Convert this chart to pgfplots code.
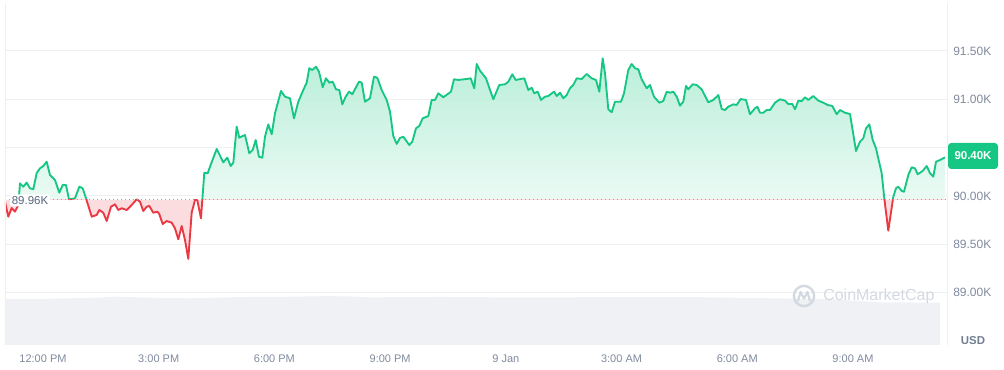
\documentclass[border=0pt]{standalone}
\usepackage{pgfplots}
\pgfplotsset{compat=1.18}
\usepackage{pgfplotstable}
\usepackage{fontspec}
\setmainfont{Liberation Sans}
\definecolor{cmcgreen}{HTML}{16C784}
\definecolor{cmcred}{HTML}{EA3943}
\definecolor{tickgray}{HTML}{808A9D}
\definecolor{darkgraytxt}{HTML}{58667E}
\definecolor{gridc}{HTML}{EDF0F3}
\definecolor{volc}{HTML}{EFF1F4}
\definecolor{dotc}{HTML}{9AA3B2}
\definecolor{wmark}{HTML}{D3D8E1}

\pgfplotstableread{
t p
-0.985 89.941
-0.900 89.786
-0.812 89.876
-0.726 89.838
-0.640 89.907
-0.596 90.131
-0.511 90.096
-0.423 90.138
-0.337 90.080
-0.251 90.069
-0.163 90.238
-0.078 90.286
0.008 90.310
0.096 90.355
0.181 90.217
0.311 90.165
0.423 90.034
0.511 90.114
0.596 90.114
0.674 89.966
0.830 89.976
0.941 90.096
1.029 90.080
1.115 89.976
1.263 89.786
1.392 89.804
1.460 89.855
1.563 89.827
1.652 89.741
1.763 89.889
1.867 89.914
1.952 89.855
2.040 89.873
2.170 89.855
2.300 89.907
2.429 89.966
2.515 89.941
2.600 89.845
2.689 89.889
2.756 89.897
2.860 89.827
2.963 89.838
3.015 89.814
3.103 89.710
3.207 89.741
3.337 89.724
3.422 89.666
3.508 89.552
3.596 89.690
3.682 89.545
3.767 89.349
3.855 89.827
3.941 89.959
4.000 89.959
4.096 89.769
4.182 90.241
4.270 90.235
4.356 90.331
4.504 90.486
4.675 90.348
4.778 90.396
4.866 90.310
4.934 90.344
5.022 90.717
5.089 90.603
5.237 90.631
5.349 90.442
5.437 90.476
5.515 90.579
5.600 90.406
5.686 90.396
5.756 90.613
5.841 90.741
5.930 90.638
6.015 90.855
6.171 91.086
6.274 91.027
6.404 91.010
6.508 90.803
6.619 90.975
6.749 91.096
6.837 91.172
6.904 91.321
6.982 91.303
7.078 91.337
7.156 91.285
7.252 91.124
7.337 91.217
7.423 91.172
7.511 91.182
7.597 91.103
7.682 91.096
7.760 90.948
7.848 91.027
7.934 91.079
8.019 91.052
8.193 91.182
8.263 91.172
8.348 90.975
8.478 91.010
8.582 91.234
8.667 91.223
8.781 91.096
8.911 90.993
8.997 90.872
9.082 90.620
9.170 90.538
9.256 90.600
9.342 90.613
9.497 90.527
9.575 90.562
9.671 90.700
9.756 90.724
9.844 90.803
9.990 90.827
10.078 90.993
10.163 90.993
10.249 91.062
10.379 91.021
10.578 91.079
10.656 91.207
10.767 91.200
10.985 91.210
11.089 91.217
11.182 91.114
11.245 91.365
11.330 91.296
11.486 91.217
11.675 91.000
11.830 91.148
11.978 91.155
12.064 91.182
12.168 91.259
12.256 91.200
12.479 91.217
12.582 91.096
12.670 91.120
12.738 91.062
12.826 91.079
12.912 90.993
13.015 91.027
13.101 91.034
13.249 91.079
13.319 91.034
13.404 91.068
13.490 91.010
13.578 91.044
13.664 91.114
13.749 91.148
13.837 91.217
13.967 91.210
14.096 91.262
14.226 91.217
14.338 91.200
14.423 91.079
14.511 91.424
14.571 91.269
14.657 90.897
14.745 90.866
14.830 90.975
14.986 90.975
15.064 91.062
15.175 91.303
15.263 91.365
15.349 91.321
15.434 91.310
15.522 91.207
15.652 91.114
15.738 91.148
15.841 91.027
15.979 90.965
16.082 90.982
16.171 91.079
16.256 91.068
16.342 91.079
16.430 91.027
16.515 90.934
16.601 90.975
16.671 91.138
16.731 91.103
16.845 91.155
16.948 91.148
17.078 91.103
17.249 90.969
17.379 90.993
17.509 91.044
17.597 90.900
17.682 90.889
17.768 90.923
17.897 90.948
17.985 90.941
18.089 91.003
18.227 90.993
18.330 90.845
18.460 90.907
18.520 90.923
18.590 90.861
18.675 90.861
18.763 90.889
18.849 90.889
18.979 90.965
19.108 91.000
19.238 90.986
19.323 90.951
19.427 90.951
19.497 90.897
19.583 90.986
19.671 90.982
19.756 91.021
19.842 90.993
19.971 91.034
20.101 90.986
20.231 90.965
20.345 90.941
20.464 90.931
20.578 90.845
20.664 90.889
20.793 90.861
20.923 90.848
21.079 90.465
21.182 90.562
21.268 90.597
21.338 90.700
21.424 90.741
21.512 90.579
21.597 90.493
21.745 90.235
21.812 89.976
21.916 89.641
22.046 89.993
22.116 90.080
22.175 90.096
22.263 90.052
22.323 90.044
22.435 90.217
22.522 90.297
22.608 90.286
22.678 90.224
22.808 90.259
22.912 90.310
22.997 90.235
23.083 90.200
23.153 90.355
23.257 90.372
23.386 90.400
}\price

\pgfplotstableread{
t v
-0.985 88.40
-0.985 88.932
-0.078 88.935
0.700 88.942
1.478 88.950
1.815 88.959
2.774 88.948
3.811 88.942
4.589 88.950
5.367 88.956
6.404 88.958
7.311 88.964
7.830 88.962
8.478 88.952
10.293 88.956
11.849 88.952
14.441 88.953
17.034 88.953
19.108 88.940
20.482 88.932
21.701 88.900
23.256 88.897
23.256 88.40
}\volume

\begin{document}
\begin{tikzpicture}
\begin{axis}[
  at={(3.75pt,18.75pt)}, anchor=south west,
  scale only axis, width=706.5pt, height=256.5pt,
  xmin=-0.985, xmax=23.438, ymin=88.459, ymax=91.996,
  axis line style={draw=none},
  major tick length=0pt,
  xtick={0,3,6,9,12,15,18,21},
  xticklabels={12:00 PM,3:00 PM,6:00 PM,9:00 PM,9 Jan,3:00 AM,6:00 AM,9:00 AM},
  ytick={89,89.5,90,90.5,91,91.5},
  yticklabels={89.00K,89.50K,90.00K,,91.00K,91.50K},
  yticklabel pos=right,
  ymajorgrids, major grid style={gridc, line width=0.75pt},
  xticklabel style={font=\fontsize{8.25}{10}\selectfont, text=tickgray, anchor=north, inner sep=0pt, yshift=-7.5pt},
  yticklabel style={font=\fontsize{9}{11}\selectfont, text=tickgray, anchor=west, inner sep=0pt, xshift=4.5pt},
]
\addplot[fill=volc, draw=none] table {\volume};
\begin{scope}
  \clip (axis cs:-2,89.96) rectangle (axis cs:25,92.5);
  \addplot[draw=none, top color=cmcgreen!33!white, bottom color=white, fill opacity=0.9] table {\price} -- (axis cs:23.386,89.96) -- (axis cs:-0.985,89.96) -- cycle;
  \addplot[cmcgreen, line width=1.4pt, line join=round] table {\price};
\end{scope}
\begin{scope}
  \clip (axis cs:-2,88) rectangle (axis cs:25,89.96);
  \addplot[draw=none, fill=cmcred!17!white] table {\price} -- (axis cs:23.386,89.96) -- (axis cs:-0.985,89.96) -- cycle;
  \addplot[cmcred, line width=1.4pt, line join=round] table {\price};
\end{scope}
\addplot[dotc, line width=0.75pt, dash pattern=on 0.75pt off 2.25pt] coordinates {(-0.985,89.96) (23.438,89.96)};
\node[fill=white, rounded corners=2pt, inner sep=1.5pt, text=darkgraytxt, font=\fontsize{8.6}{10}\selectfont] at (axis cs:-0.337,89.955) {89.96K};
\end{axis}
% frame lines
\draw[gridc, line width=0.75pt] (3.75pt,18.75pt) -- (3.75pt,275.25pt);
\draw[gridc, line width=0.75pt] (710.25pt,18.75pt) -- (710.25pt,275.25pt);
% current price tag
\node[fill=cmcgreen, rounded corners=2.5pt, minimum width=37.5pt, minimum height=19.5pt, inner sep=0pt, text=white, font=\bfseries\fontsize{8.6}{10}\selectfont] at (729.75pt,160.5pt) {90.40K};
% USD
\node[font=\bfseries\fontsize{8.6}{10}\selectfont, text=darkgraytxt!85!white] at (729.75pt,21.75pt) {USD};
% watermark
\draw[wmark, line width=1.8pt] (603pt,55.5pt) circle (7.6pt);
\draw[wmark, line width=1.6pt, line join=round, line cap=round] (598.5pt,52pt) -- (600.5pt,58.5pt) -- (603pt,53.5pt) -- (605.5pt,58.5pt) -- (607.5pt,52pt);
\node[anchor=west, inner sep=0pt, text=wmark, font=\fontsize{12}{14}\selectfont] at (617.25pt,55.5pt) {CoinMarketCap};
\pgfresetboundingbox
\useasboundingbox (0,0) rectangle (753pt,277.5pt);
\end{tikzpicture}
\end{document}
